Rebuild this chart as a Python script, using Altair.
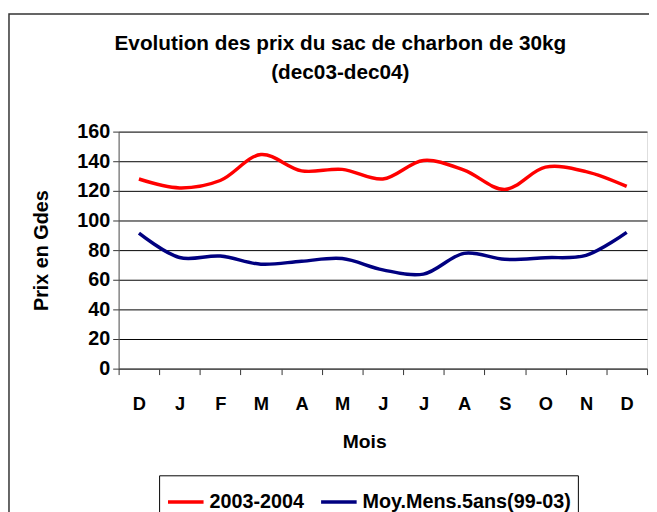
import altair as alt
import pandas as pd

months = ["Dec03", "Jan", "Fev", "Mar", "Avr", "Mai", "Juin", "Juil", "Aout", "Sep", "Oct", "Nov", "Dec04"]
series_names = ["2003-2004", "Moy.Mens.5ans(99-03)"]
prix_2003_2004 = [128, 122, 127, 144.5, 133.5, 134.5, 128, 140.5, 134, 121, 136, 133, 123]
moy_5ans = [91.5, 75, 76, 70.5, 72.5, 74.3, 66.7, 63.8, 77.8, 73.8, 74.9, 76.5, 92]
y_ticks = [0, 20, 40, 60, 80, 100, 120, 140, 160]

rows = []
for m, a, b in zip(months, prix_2003_2004, moy_5ans):
    rows.append({"mois": m, "serie": series_names[0], "prix": a})
    rows.append({"mois": m, "serie": series_names[1], "prix": b})
df = pd.DataFrame(rows)

FONT = "Liberation Sans"

frame = alt.Chart(pd.DataFrame({"a": [0]})).mark_rect(
    fillOpacity=0, stroke="#333333", strokeWidth=1.5
).encode(
    x=alt.value(-111), x2=alt.value(570), y=alt.value(-119), y2=alt.value(400)
)

lines = alt.Chart(df).mark_line(strokeWidth=3.5, interpolate="catmull-rom").encode(
    x=alt.X(
        "mois:O",
        sort=months,
        scale=alt.Scale(type="band", paddingInner=0, paddingOuter=0),
        axis=alt.Axis(
            title="Mois",
            labelExpr="substring(datum.label, 0, 1)",
            labelAngle=0,
            labelFont=FONT, labelFontSize=18.5, labelFontWeight="bold", labelColor="black",
            labelBaseline="middle", labelPadding=29,
            tickBand="extent", tickSize=6, tickColor="#333333",
            domainColor="#555555",
            titleFont=FONT, titleFontSize=19.5, titleFontWeight="bold", titleColor="black",
            titleX=248.7, titleY=74, titleBaseline="middle", titleAlign="center",
            grid=False,
        ),
    ),
    y=alt.Y(
        "prix:Q",
        scale=alt.Scale(domain=[0, 160], nice=False, zero=True),
        axis=alt.Axis(
            title="Prix en Gdes",
            values=y_ticks,
            labelFont=FONT, labelFontSize=20, labelFontWeight="bold", labelColor="black",
            labelPadding=3, tickSize=6, tickColor="#333333",
            domainColor="#555555",
            grid=True, gridColor="#000000", gridWidth=1,
            titleFont=FONT, titleFontSize=20, titleFontWeight="bold", titleColor="black",
            titleX=-78, titleY=120, titleAngle=270, titleAlign="center", titleBaseline="middle",
        ),
    ),
    color=alt.Color(
        "serie:N",
        scale=alt.Scale(domain=series_names, range=["#FF0000", "#000080"]),
        legend=alt.Legend(
            orient="none", legendX=41, legendY=348, direction="horizontal", title=None,
            strokeColor="black", fillColor="white", padding=7,
            symbolType="stroke", symbolSize=1296, symbolStrokeWidth=3.5,
            labelFont=FONT, labelFontSize=20, labelFontWeight="bold", labelColor="black",
            labelOffset=4, columnPadding=10, labelLimit=400,
        ),
    ),
)

chart = alt.layer(frame, lines).properties(
    width=535,
    height=240,
    autosize=alt.AutoSizeParams(type="none"),
    padding={"left": 112, "top": 122, "right": 2, "bottom": 142},
    title=alt.TitleParams(
        text=["Evolution des prix du sac de charbon de 30kg", "(dec03-dec04)"],
        font=FONT, fontSize=21, fontWeight="bold", color="black",
        anchor="middle", frame="group", dx=-43, offset=-92, lineHeight=30, baseline="bottom",
    ),
).configure_view(stroke="#808080", strokeWidth=1).configure(background="white")

chart.save("out.html", embed_options={"renderer": "svg", "actions": False})
